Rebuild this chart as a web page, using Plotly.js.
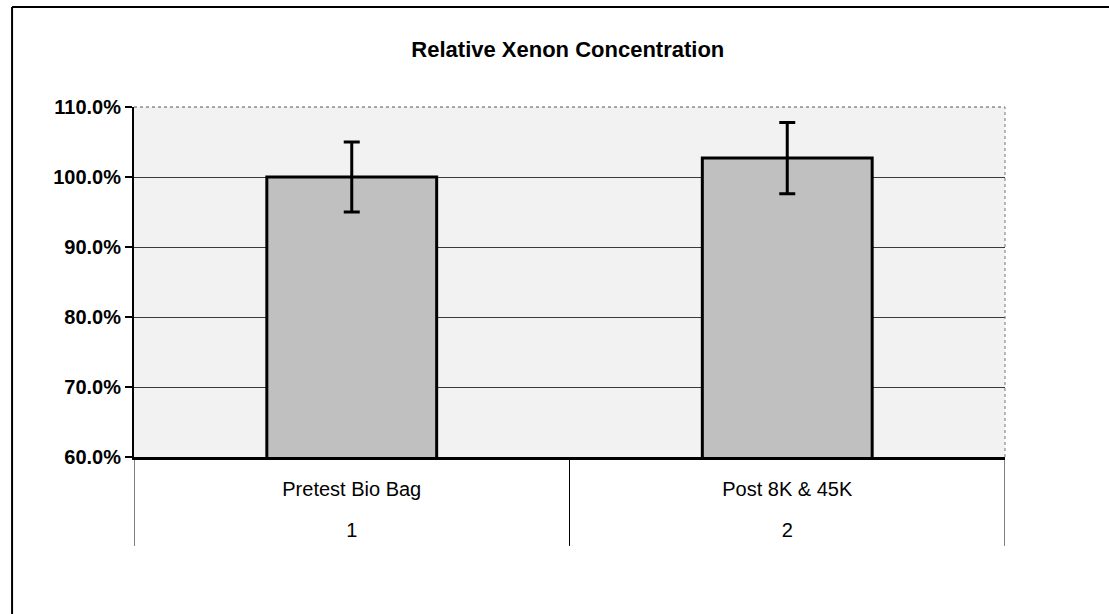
<!DOCTYPE html>
<html>
<head>
<meta charset="utf-8">
<script src="https://cdn.plot.ly/plotly-3.0.1.min.js"></script>
<style>
  html, body { margin: 0; padding: 0; background: #ffffff; }
  #chart { width: 1109px; height: 614px; }
</style>
</head>
<body>
<div id="chart"></div>
<script>
// ---- data ----
const groupNumbers = ["1", "2"];
const categories = ["Pretest Bio Bag", "Post 8K & 45K"];
const relativeConcentration = [1.000, 1.027];
const errorValues = [0.050, 0.051];
const yTickValues = [0.6, 0.7, 0.8, 0.9, 1.0, 1.1];
const chartTitle = "Relative Xenon Concentration";

const FONT = '"Liberation Sans", Arial, Helvetica, sans-serif';
const catIndex = categories.map((_, i) => i);
// category boundaries (between and around the two groups)
const boundaries = [-0.5].concat(catIndex.map(i => i + 0.5));

const barTrace = {
  type: 'bar',
  x: categories,
  y: relativeConcentration,
  width: 0.39,
  marker: {
    color: '#c0c0c0',
    line: { color: '#000000', width: 3 }
  },
  error_y: {
    type: 'data',
    array: errorValues,
    visible: true,
    color: '#000000',
    thickness: 3,
    width: 8
  },
  hoverinfo: 'skip',
  showlegend: false
};

// invisible helper so the second (group-number) axis row is drawn
const groupTrace = {
  type: 'scatter',
  mode: 'markers',
  x: catIndex,
  y: relativeConcentration,
  xaxis: 'x2',
  marker: { opacity: 0, size: 1 },
  hoverinfo: 'skip',
  showlegend: false
};

const layout = {
  width: 1109,
  height: 614,
  margin: { l: 134, r: 104, t: 107, b: 157 },
  paper_bgcolor: '#ffffff',
  plot_bgcolor: '#f2f2f2',
  font: { family: FONT, color: '#000000' },
  title: {
    text: chartTitle,
    font: { family: FONT, size: 22, weight: 'bold', color: '#000000' },
    x: 0.512,
    xanchor: 'center',
    y: 0.92,
    yref: 'container',
    yanchor: 'middle'
  },
  xaxis: {
    type: 'category',
    range: [-0.5, 1.5],
    showline: true,
    linecolor: '#000000',
    linewidth: 3,
    ticks: '',
    showgrid: false,
    zeroline: false,
    ticklabelstandoff: 12,
    tickfont: { family: FONT, size: 20, color: '#000000' }
  },
  xaxis2: {
    type: 'linear',
    overlaying: 'x',
    anchor: 'y',
    side: 'bottom',
    range: [-0.5, 1.5],
    tickvals: catIndex,
    ticktext: groupNumbers,
    showline: false,
    showgrid: false,
    zeroline: false,
    ticks: '',
    ticklabelstandoff: 59,
    tickfont: { family: FONT, size: 20, color: '#000000' }
  },
  yaxis: {
    range: [0.6, 1.1],
    tickvals: yTickValues,
    tickformat: '.1%',
    showline: true,
    linecolor: '#000000',
    linewidth: 2,
    ticks: 'outside',
    ticklen: 7,
    tickwidth: 1.5,
    tickcolor: '#000000',
    showgrid: true,
    gridcolor: '#3a3a3a',
    gridwidth: 1,
    zeroline: false,
    tickfont: { family: FONT, size: 20, weight: 'bold', color: '#000000' }
  },
  shapes: [
    // outer chart border (left and top edges visible in the scan)
    { type: 'line', xref: 'paper', yref: 'paper', x0: -0.140, x1: -0.140, y0: 1.286, y1: -0.5,
      line: { color: '#000000', width: 2 } },
    { type: 'line', xref: 'paper', yref: 'paper', x0: -0.140, x1: 1.2, y0: 1.286, y1: 1.286,
      line: { color: '#000000', width: 2 } },
    // dotted top and right edges of the plot area
    { type: 'line', xref: 'paper', yref: 'paper', x0: 0, x1: 1, y0: 1, y1: 1,
      line: { color: '#555555', width: 1, dash: 'dot' } },
    { type: 'line', xref: 'paper', yref: 'paper', x0: 1, x1: 1, y0: 0, y1: 1,
      line: { color: '#777777', width: 1, dash: 'dot' } }
  ].concat(boundaries.map(b => ({
    // category dividers below the axis
    type: 'line', xref: 'x2', yref: 'paper', x0: b, x1: b, y0: 0, y1: -0.254,
    line: { color: '#000000', width: 1 }
  })))
};

Plotly.newPlot('chart', [barTrace, groupTrace], layout, { staticPlot: true, displayModeBar: false });
</script>
</body>
</html>
